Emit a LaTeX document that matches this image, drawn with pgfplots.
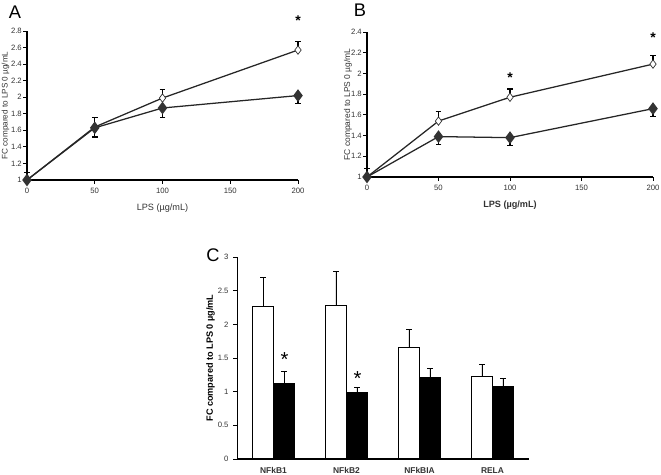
\documentclass[border=0pt]{standalone}
\usepackage{fontspec}
\setmainfont{Liberation Sans}
\usepackage{pgfplots}
\pgfplotsset{compat=1.18}
\definecolor{txt}{RGB}{51,51,51}
\definecolor{baseline}{RGB}{130,130,130}

\pgfplotsset{
  lpsline/.style={
    scale only axis,
    axis lines*=left,
    axis line style={-, line width=0.9pt, black},
    xmin=0, xmax=200,
    xtick={0,50,100,150,200},
    tick align=outside,
    major tick length=2.5pt,
    tick style={black, line width=0.6pt},
    tick label style={font=\fontsize{5.5}{6}\selectfont, text=txt},
    yticklabel style={inner sep=1pt},
    label style={font=\fontsize{6.5}{7}\selectfont, text=txt},
    /pgf/number format/assume math mode=true,
    xlabel={LPS (µg/mL)},
    ylabel={FC compared to LPS 0 µg/mL},
    clip=false,
  },
  whiteser/.style={
    line width=0.9pt, color=black!85,
    mark=diamond*, mark size=3pt,
    mark options={fill=white, draw=black!80, line width=0.5pt},
    error bars/.cd, y dir=plus, y explicit,
    error bar style={line width=0.8pt, black},
    error mark options={rotate=90, mark size=2pt, line width=0.8pt, black},
  },
  blackser/.style={
    line width=0.9pt, color=black!85,
    mark=diamond*, mark size=3.8pt,
    mark options={fill=black!80, draw=black!80},
    error bars/.cd, y dir=minus, y explicit,
    error bar style={line width=0.8pt, black},
    error mark options={rotate=90, mark size=2pt, line width=0.8pt, black},
  },
}

\begin{document}
\begin{tikzpicture}
\path[use as bounding box] (0,0) rectangle (16.525cm,11.85cm);

%% panel A
\begin{axis}[lpsline,
  at={(0.675cm,7.35cm)}, anchor=south west,
  width=6.775cm, height=3.725cm,
  ymin=1, ymax=2.8, ytick={1,1.2,...,2.81},
  every axis y label/.style={at={(axis description cs:-0.064,0.5)}, rotate=90, anchor=south, inner sep=0pt,
    font=\fontsize{5.8}{7}\selectfont, text=txt},
]
  \addplot[whiteser] coordinates {
    (0,1) +- (0,0.09)
    (50,1.64) +- (0,0.11)
    (100,1.99) +- (0,0.10)
    (200,2.57) +- (0,0.10)
  };
  \addplot[blackser] coordinates {
    (0,1) +- (0,0)
    (50,1.63) +- (0,0.11)
    (100,1.87) +- (0,0.11)
    (200,2.02) +- (0,0.10)
  };
  \node[font=\bfseries] at (axis cs:200,2.92) {*};
\end{axis}
\node[font=\fontsize{13}{14}\selectfont] at (0.375cm,11.55cm) {A};

%% panel B
\begin{axis}[lpsline,
  at={(9.175cm,7.425cm)}, anchor=south west,
  width=7.15cm, height=3.625cm,
  ymin=1, ymax=2.4, ytick={1,1.2,...,2.41},
  xlabel style={font=\fontsize{6.5}{7}\selectfont\bfseries, text=txt},
  every axis y label/.style={at={(axis description cs:-0.052,0.5)}, rotate=90, anchor=south, inner sep=0pt,
    font=\fontsize{6}{7}\selectfont, text=txt},
]
  \addplot[whiteser] coordinates {
    (0,1) +- (0,0.08)
    (50,1.54) +- (0,0.09)
    (100,1.77) +- (0,0.08)
    (200,2.09) +- (0,0.08)
  };
  \addplot[blackser] coordinates {
    (0,1) +- (0,0)
    (50,1.39) +- (0,0.08)
    (100,1.38) +- (0,0.08)
    (200,1.66) +- (0,0.08)
  };
  \node[font=\bfseries] at (axis cs:100,1.96) {*};
  \node[font=\bfseries] at (axis cs:200,2.35) {*};
\end{axis}
\node[font=\fontsize{13}{14}\selectfont] at (9.0cm,11.6cm) {B};

%% panel C
\begin{axis}[
  at={(5.925cm,0.375cm)}, anchor=south west,
  scale only axis,
  width=7.3cm, height=5.05cm,
  axis lines*=left,
  x axis line style={-, line width=1.2pt, baseline},
  y axis line style={-, line width=0.6pt, black},
  ybar=0pt, bar width=0.525cm,
  xmin=-0.5, xmax=3.5,
  ymin=0, ymax=3, ytick={0,0.5,...,3.01},
  xtick=data,
  xticklabels={NFkB1,NFkB2,NFkBIA,RELA},
  major x tick style={draw=none},
  tick align=outside,
  major tick length=2.5pt,
  y tick style={black, line width=0.5pt},
  tick label style={font=\fontsize{5.5}{6}\selectfont, text=txt},
  x tick label style={font=\fontsize{6}{7}\selectfont\bfseries, text=txt},
  ylabel={FC compared to LPS 0 µg/mL},
  every axis y label/.style={at={(axis description cs:-0.075,0.5)}, rotate=90, anchor=south, inner sep=0pt,
    font=\fontsize{6.5}{7}\selectfont\bfseries, text=black},
  /pgf/number format/assume math mode=true,
  error bars/y dir=plus, error bars/y explicit,
  error bars/error bar style={line width=0.7pt, black},
  error bars/error mark options={rotate=90, mark size=2pt, line width=0.7pt, black},
  clip=false,
]
  \addplot[fill=white, draw=black, line width=0.8pt] coordinates {
    (0,2.26) +- (0,0.43)
    (1,2.28) +- (0,0.51)
    (2,1.65) +- (0,0.28)
    (3,1.23) +- (0,0.17)
  };
  \addplot[fill=black, draw=black, line width=0.8pt] coordinates {
    (0,1.12) +- (0,0.18)
    (1,0.98) +- (0,0.08)
    (2,1.21) +- (0,0.14)
    (3,1.07) +- (0,0.13)
  };
  \node[font=\Large] at (axis cs:0.15,1.47) {*};
  \node[font=\Large] at (axis cs:1.15,1.19) {*};
\end{axis}
\node[font=\fontsize{13}{14}\selectfont] at (5.325cm,5.475cm) {C};
\end{tikzpicture}
\end{document}
